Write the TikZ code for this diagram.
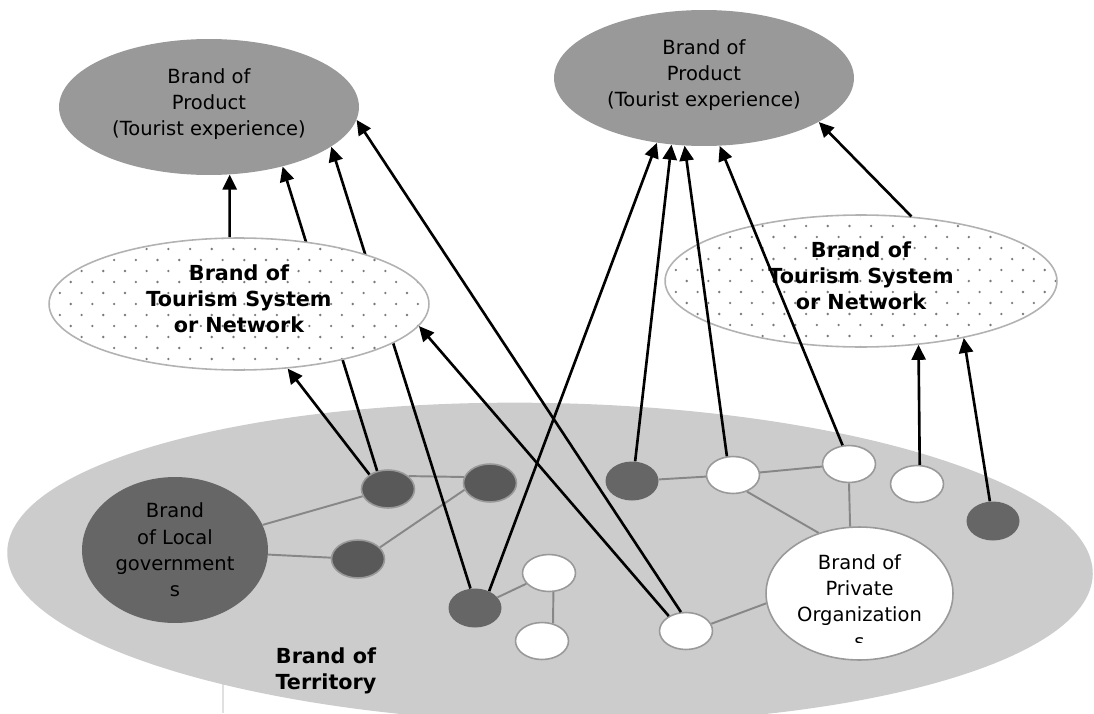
\documentclass[tikz,border=0pt]{standalone}
\usepackage{fontspec}
\setmainfont{DejaVu Sans}
\usepackage{tikz}
\usetikzlibrary{shapes.geometric,arrows.meta}
\newcommand\regtxt{\fontsize{11.1}{15}\selectfont}
\newcommand\boldtxt{\fontsize{11.8}{15}\selectfont\bfseries}
\pgfdeclarelayer{back}
\pgfdeclarelayer{front}
\pgfsetlayers{back,main,front}

\begin{document}
\begin{tikzpicture}[x=0.02cm, y=-0.02cm,
    terr/.style={ellipse, fill=black!20, minimum width=21.72cm, minimum height=6.4cm, rotate=-1.2},
    prod/.style={ellipse, fill=black!40, minimum width=6cm, minimum height=2.72cm,
        inner sep=0pt, align=center, font=\regtxt, text depth=5.7pt},
    net/.style={ellipse, draw=black!30, line width=0.9pt, fill=white,
        minimum width=7.6cm, minimum height=2.64cm, inner sep=0pt, align=center,
        font=\boldtxt, text depth=6pt,
        path picture={
          \foreach \r in {0,...,12}{\foreach \c in {0,...,19}{
            \fill[black!52] ([shift={({(\c+0.5*mod(\r,2))*0.434cm},{\r*0.22cm})}]path picture bounding box.south west) circle (0.026cm);}}}},
    gov/.style={ellipse, fill=black!60, minimum width=3.72cm, minimum height=2.92cm,
        inner sep=0pt, align=center, font=\regtxt},
    priv/.style={ellipse, fill=white, draw=black!40, line width=0.9pt, minimum width=3.74cm,
        minimum height=2.66cm, inner sep=0pt, align=center, font=\regtxt, text depth=6.3pt},
    dk/.style={ellipse, fill=black!65, draw=black!40, line width=0.9pt, minimum width=1.06cm, minimum height=0.76cm, inner sep=0pt},
    dkp/.style={ellipse, fill=black!60, minimum width=1.06cm, minimum height=0.78cm, inner sep=0pt},
    wt/.style={ellipse, fill=white, draw=black!40, line width=0.9pt, minimum width=1.06cm, minimum height=0.74cm, inner sep=0pt},
    link/.style={draw=black!47, line width=1.1pt},
    arr/.style={-{Triangle[length=8.5pt,width=8pt]}, line width=1.5pt}]
    \useasboundingbox (0,0) rectangle (1094,713);

    \begin{pgfonlayer}{back}
    \draw[black!12, line width=1pt] (223,600) -- (223,713);
    \node[terr] (T) at (550,563) {};
    \end{pgfonlayer}

    % marchi di prodotto
    \node[prod] (PL) at (209,107) {Brand of\\Product\\(Tourist experience)};
    \node[prod] (PR) at (704,78) {Brand of\\Product\\(Tourist experience)};
    \node[net, minimum width=7.84cm] (SR) at (861,281) {Brand of\\Tourism System\\or Network};
    \begin{pgfonlayer}{front}
    \node[net] (SL) at (239,304) {Brand of\\Tourism System\\or Network};
    \end{pgfonlayer}

    \node[gov] (LG) at (175,550) {Brand\\of Local\\government\\s};
    \node[priv] (PO) at (859.5,593.5) {Brand of\\Private\\Organization};
    \begin{scope}
    \clip (820,600) rectangle (900,642);
    \node[font=\regtxt, anchor=base, inner sep=0pt] (S) at (859.5,648) {s};
    \end{scope}

    \node[dk] (A) at (388,489) {};
    \node[dk] (B) at (490,483) {};
    \node[dk] (C) at (358,559) {};
    \node[dkp] (D) at (475,608) {};
    \node[wt] (E) at (549,573) {};
    \node[wt] (F) at (542,641) {};
    \node[dkp] (G) at (632,481) {};
    \node[wt] (H) at (733,475) {};
    \node[wt] (I) at (849,464) {};
    \node[wt] (J) at (917,484) {};
    \node[dkp] (K) at (993,521) {};
    \node[wt] (L) at (686,631) {};

    \node[font=\boldtxt, align=center] (TL) at (326,671) {Brand of\\Territory};

    % collegamenti grigi
    \begin{pgfonlayer}{back}
    \draw[link] (LG) -- (A);
    \draw[link] (LG) -- (C);
    \draw[link] (A.32) -- (B.167);
    \draw[link] (C.28) -- (B.195);
    \draw[link] (D) -- (E);
    \draw[link] (E.-77.5) -- (F.58.6);
    \draw[link] (G) -- (H);
    \draw[link] (H) -- (I);
    \draw[link] (H.-50.5) -- (PO.124.2);
    \draw[link] (I.south) -- (PO.98.1);
    \draw[link] (L.16.5) -- (PO.186.4);
    \end{pgfonlayer}

    \draw[arr] (SL.98.6) -- (PL.-73.6);
    \draw[arr] (A.121) -- (PL.-39.7);
    \draw[arr] (D.103) -- (PL.-18.6);
    \draw[arr] (L.105) -- (PL.-5.2);
    \draw[arr] (L.139) -- (SL.-7.3);
    \draw[arr] (A.142) -- (SL.-53.4);
    \draw[arr] (D.50) -- (PR.234);
    \draw[arr] (G.81) -- (PR.244.4);
    \draw[arr] (H.108) -- (PR.254.6);
    \draw[arr] (I.109) -- (PR.-77.8);
    \draw[arr] (SR.52) -- (PR.-21.2);
    \draw[arr] (J.82) -- (SR.-48.9);
    \draw[arr] (K.99) -- (SR.-29.3);
    %\draw[arr] (D.center) -- (PR.234);
\end{tikzpicture}
\end{document}
